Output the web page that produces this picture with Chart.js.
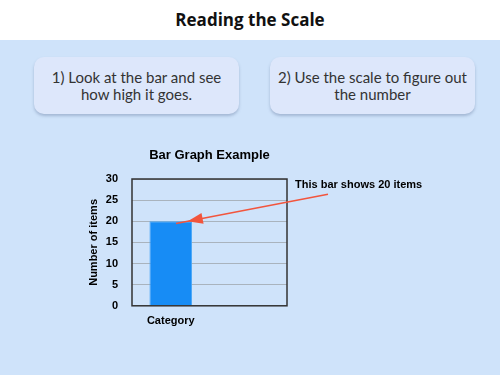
<!DOCTYPE html>
<html>
<head>
<meta charset="utf-8">
<script src="https://cdn.jsdelivr.net/npm/chart.js@4"></script>
<style>
  html, body { margin: 0; padding: 0; }
  body { width: 500px; height: 375px; position: relative; overflow: hidden; background: #cfe3fa; font-family: "Open Sans", sans-serif; }
  .header { position: absolute; left: 0; top: 0; width: 500px; height: 40px; background: #fff; text-align: center; line-height: 40px; font-weight: 700; font-size: 17px; color: #111; }
  .box { position: absolute; top: 57px; width: 205px; height: 57px; background: #dde7fb; border-radius: 10px; box-shadow: 0 2px 3px rgba(80,100,140,0.35); display: flex; align-items: center; justify-content: center; text-align: center; font-family: Lato, sans-serif; font-size: 15px; line-height: 17px; color: #333; }
  #wrap { position: absolute; left: 0; top: 130px; width: 500px; height: 220px; }
</style>
</head>
<body>
<div class="header">Reading the Scale</div>
<div class="box" style="left:34px">1) Look at the bar and see<br>how high it goes.</div>
<div class="box" style="left:270px">2) Use the scale to figure out<br>the number</div>
<div id="wrap"><canvas id="chart"></canvas></div>
<script>
// chart values
const categories = ["Category", ""];
const itemCounts = [20, null];
const yTicks = [0, 5, 10, 15, 20, 25, 30];
const chartTitle = "Bar Graph Example";
const yTitle = "Number of items";
const noteText = "This bar shows 20 items";

const arrowNote = {
  id: "arrowNote",
  afterDraw(chart) {
    const { ctx, chartArea } = chart;
    ctx.save();
    ctx.strokeStyle = "#333";
    ctx.lineWidth = 1.5;
    ctx.strokeRect(chartArea.left, chartArea.top, chartArea.right - chartArea.left, chartArea.bottom - chartArea.top);

    // title centred over the plot area
    ctx.fillStyle = "#000";
    ctx.font = "bold 13px Arial, 'Liberation Sans', sans-serif";
    ctx.textAlign = "center";
    ctx.textBaseline = "middle";
    ctx.fillText(chartTitle, (chartArea.left + chartArea.right) / 2, chartArea.top - 24);

    // y axis title
    ctx.font = "bold 11px Arial, 'Liberation Sans', sans-serif";
    ctx.save();
    ctx.translate(chartArea.left - 38, (chartArea.top + chartArea.bottom) / 2);
    ctx.rotate(-Math.PI / 2);
    ctx.fillText(yTitle, 0, 0);
    ctx.restore();

    const bar = chart.getDatasetMeta(0).data[0];
    const tipX = bar.x + bar.width * 0.4;
    const tipY = bar.y;
    const tx = chartArea.right + 8;
    const ty = chart.scales.y.getPixelForValue(28.5);
    ctx.textAlign = "left";
    ctx.fillText(noteText, tx, ty);

    const sx = tx + 33, sy = ty + 9;
    const ang = Math.atan2(tipY - sy, tipX - sx);
    ctx.strokeStyle = "#f2553d";
    ctx.fillStyle = "#f2553d";
    ctx.lineWidth = 1.5;
    ctx.beginPath();
    ctx.moveTo(sx, sy);
    ctx.lineTo(tipX + 12 * Math.cos(ang), tipY + 12 * Math.sin(ang));
    ctx.stroke();
    ctx.beginPath();
    ctx.moveTo(tipX, tipY);
    ctx.lineTo(tipX - 15 * Math.cos(ang) - 5.5 * Math.sin(ang), tipY - 15 * Math.sin(ang) + 5.5 * Math.cos(ang));
    ctx.lineTo(tipX - 15 * Math.cos(ang) + 5.5 * Math.sin(ang), tipY - 15 * Math.sin(ang) - 5.5 * Math.cos(ang));
    ctx.closePath();
    ctx.fill();
    ctx.restore();
  }
};

const font = { family: "Arial, 'Liberation Sans', sans-serif", weight: "bold", size: 11 };

new Chart(document.getElementById("chart"), {
  type: "bar",
  data: {
    labels: categories,
    datasets: [{
      data: itemCounts,
      backgroundColor: "#178cf5",
      borderColor: "#4aa6f7",
      borderWidth: 1,
      barPercentage: 0.55,
      categoryPercentage: 1
    }]
  },
  options: {
    responsive: true,
    maintainAspectRatio: false,
    animation: false,
    layout: { padding: { left: 78, right: 213, top: 49, bottom: 21 } },
    plugins: {
      legend: { display: false },
      tooltip: { enabled: false },
      title: { display: false }
    },
    scales: {
      x: {
        grid: { display: false },
        border: { display: false },
        ticks: { color: "#000", font, padding: 1 }
      },
      y: {
        min: 0,
        max: 30,
        afterBuildTicks(scale) { scale.ticks = yTicks.map(v => ({ value: v })); },
        afterFit(scale) { scale.width = 54; },
        grid: { color: "#a9b3bd", lineWidth: 1, drawTicks: false },
        border: { display: false },
        ticks: { color: "#000", font, padding: 14 }
      }
    }
  },
  plugins: [arrowNote]
});
</script>
</body>
</html>
